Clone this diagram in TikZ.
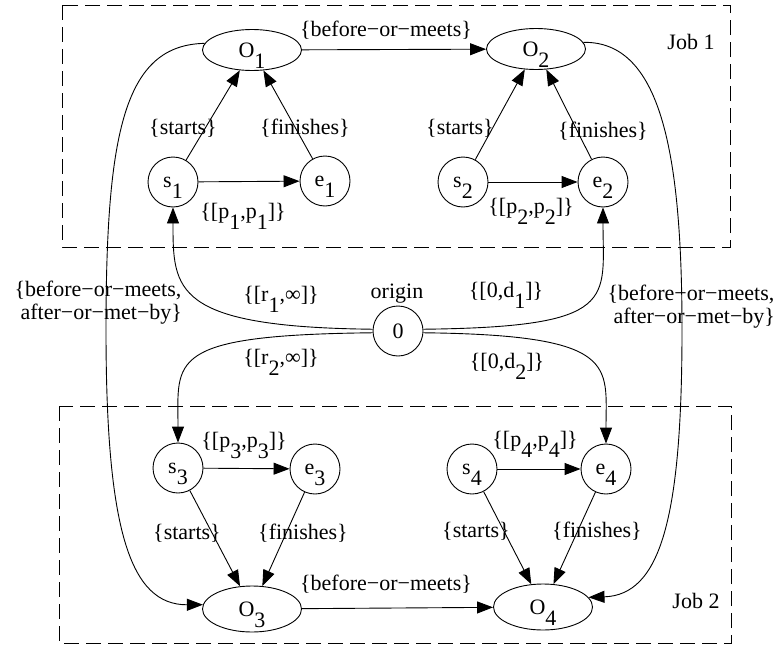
\documentclass[tikz,border=0pt]{standalone}
\usepackage{fontspec}
\setmainfont{Liberation Serif}
\usetikzlibrary{arrows.meta,shapes.geometric}
\newcommand{\lowsub}[1]{\raisebox{-0.5em}[0pt][0pt]{#1}}
\begin{document}
\begin{tikzpicture}[x=1pt,y=-1pt,line width=0.9pt,
  font=\fontsize{22}{22.5}\selectfont,
  circ/.style={circle,draw,minimum size=50pt,inner sep=0pt},
  ell/.style={ellipse,draw,minimum width=99pt,minimum height=41pt,inner sep=0pt},
  arr/.style={-{Triangle[length=16pt,width=12pt]}},
  lbl/.style={anchor=base,inner sep=0pt},
  jobbox/.style={draw,dash pattern=on 15pt off 7pt}]
\useasboundingbox (0,0) rectangle (779,645);
% job boxes
\draw[jobbox] (62,5) rectangle (730,247);
\draw[jobbox] (59,406) rectangle (731,643);
% nodes
\node[ell] (O1) at (252,50) {O\lowsub{1}};
\node[ell] (O2) at (536,49) {O\lowsub{2}};
\node[circ] (s1) at (173,182) {s\lowsub{1}};
\node[circ] (e1) at (325,181) {e\lowsub{1}};
\node[circ] (s2) at (463,182) {s\lowsub{2}};
\node[circ] (e2) at (603,182) {e\lowsub{2}};
\node[circ] (o) at (398,331) {0};
\node[circ] (s3) at (178,468) {s\lowsub{3}};
\node[circ] (e3) at (315,469) {e\lowsub{3}};
\node[circ] (s4) at (472,469) {s\lowsub{4}};
\node[circ] (e4) at (606,469) {e\lowsub{4}};
\node[ell,minimum height=46pt] (O3) at (252,609) {O\lowsub{3}};
\node[ell,minimum height=46pt] (O4) at (543,607) {O\lowsub{4}};
% job 1 edges
\draw[arr] (O1) -- (O2);
\draw[arr] (s1) -- (O1);
\draw[arr] (e1) -- (O1);
\draw[arr] (s1) -- (e1);
\draw[arr] (s2) -- (O2);
\draw[arr] (e2) -- (O2);
\draw[arr] (s2) -- (e2);
% job 2 edges
\draw[arr] (s3) -- (e3);
\draw[arr] (s3) -- (O3);
\draw[arr] (e3) -- (O3);
\draw[arr] (s4) -- (e4);
\draw[arr] (s4) -- (O4);
\draw[arr] (e4) -- (O4);
\draw[arr] (O3) -- (O4);
% origin edges
\draw[arr] (o.176) .. controls (173,327) and (173,290) .. (s1.south);
\draw[arr] (o.184) .. controls (165,335) and (178,360) .. (s3.north);
\draw[arr] (o.4) .. controls (620,327) and (603,300) .. (e2.south);
\draw[arr] (o.-4) .. controls (620,335) and (606,365) .. (e4.north);
% long edges
\draw[arr] (O1.172) .. controls (125,45) and (106,130) .. (106,330)
  .. controls (106,530) and (130,605) .. (O3.175);
\draw[arr] (O2.8) .. controls (660,41) and (682,150) .. (682,330)
  .. controls (682,520) and (660,595) .. (O4.12);
% labels
\node[lbl] (l1) at (386,36) {\{before−or−meets\}};
\node[lbl] (l2) at (183,134) {\{starts\}};
\node[lbl] (l3) at (305,134) {\{finishes\}};
\node[lbl] (l4) at (243,218) {\{[p\lowsub{1},p\lowsub{1}]\}};
\node[lbl] (l5) at (460,134) {\{starts\}};
\node[lbl] (l6) at (603,137) {\{finishes\}};
\node[lbl] (l7) at (531,213) {\{[p\lowsub{2},p\lowsub{2}]\}};
\node[lbl] (l8) at (281,301) {\{[r\lowsub{1},∞]\}};
\node[lbl] (l9) at (397,298) {origin};
\node[lbl] (l10) at (506,297) {\{[0,d\lowsub{1}]\}};
\node[lbl] (l11) at (281,364) {\{[r\lowsub{2},∞]\}};
\node[lbl] (l12) at (507,368) {\{[0,d\lowsub{2}]\}};
\node[lbl,align=center] (l13) at (98,319) {\{before−or−meets,\\\hspace*{0.3em}after−or−met−by\}};
\node[lbl,align=center] (l14) at (691,323) {\{before−or−meets,\\\hspace*{0.3em}after−or−met−by\}};
\node[lbl] (l15) at (244,447) {\{[p\lowsub{3},p\lowsub{3}]\}};
\node[lbl] (l16) at (187,539) {\{starts\}};
\node[lbl] (l17) at (303,539) {\{finishes\}};
\node[lbl] (l18) at (535,446) {\{[p\lowsub{4},p\lowsub{4}]\}};
\node[lbl] (l19) at (476,537) {\{starts\}};
\node[lbl] (l20) at (597,537) {\{finishes\}};
\node[lbl] (l21) at (386,590) {\{before−or−meets\}};
\node[lbl] (j1) at (691,49) {Job 1};
\node[lbl] (j2) at (696,608) {Job 2};
\end{tikzpicture}
\end{document}
